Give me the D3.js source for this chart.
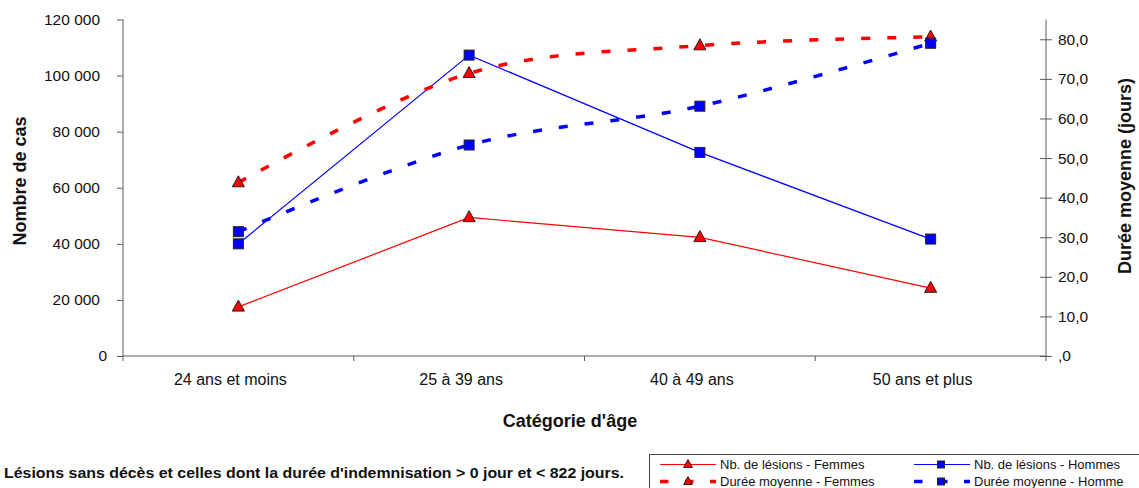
<!DOCTYPE html>
<html>
<head>
<meta charset="utf-8">
<script src="https://cdn.jsdelivr.net/npm/d3@7/dist/d3.min.js"></script>
<style>
  html, body { margin: 0; padding: 0; background: #fff; }
  svg { display: block; font-family: Arial, "Liberation Sans", sans-serif; }
</style>
</head>
<body>
<svg id="chart" width="1139" height="488"></svg>
<script>
const categories = ["24 ans et moins", "25 à 39 ans", "40 à 49 ans", "50 ans et plus"];
const lesionsFemmes = [17500, 49400, 42300, 24200];
const lesionsHommes = [40000, 107300, 72600, 41700];
const dureeFemmes = [43.8, 71.4, 78.4, 80.6];
const dureeHommes = [31.4, 53.3, 63.1, 79.0];
const leftTicks = [0, 20000, 40000, 60000, 80000, 100000, 120000];
const leftTickLabels = ["0", "20 000", "40 000", "60 000", "80 000", "100 000", "120 000"];
const rightTicks = [0, 10, 20, 30, 40, 50, 60, 70, 80];
const rightTickLabels = [",0", "10,0", "20,0", "30,0", "40,0", "50,0", "60,0", "70,0", "80,0"];
const legendLabels = ["Nb. de lésions - Femmes", "Nb. de lésions - Hommes", "Durée moyenne - Femmes", "Durée moyenne - Homme"];
const footnote = "Lésions sans décès et celles dont la durée d'indemnisation > 0 jour et < 822 jours.";

const svg = d3.select("#chart");
const L = 123, R = 1046, T = 19.5, B = 356;
const axisColor = "#5a5a5a";
const RED = "#ff0000", BLUE = "#0000ff";
const FONT = "Arial, 'Liberation Sans', sans-serif";

const x = d3.scaleBand().domain(categories).range([L, R]).padding(0);
const cx = c => x(c) + x.bandwidth() / 2;
const yL = d3.scaleLinear().domain([0, 120000]).range([B, T]);
const yR = d3.scaleLinear().domain([0, 85]).range([B, T]);

// Left axis
const gL = svg.append("g").attr("transform", `translate(${L},0)`)
  .call(d3.axisLeft(yL).tickValues(leftTicks).tickSize(6).tickPadding(17)
    .tickFormat((d, i) => leftTickLabels[i]));
gL.select(".domain").attr("stroke", axisColor).attr("d", `M0,${T}V${B + 5}`);
gL.selectAll(".tick line").attr("stroke", axisColor);
gL.selectAll(".tick text").attr("font-size", "15.5px").attr("fill", "#111").attr("font-family", FONT)
  .attr("dx", d => d === 0 ? 7 : 0);

// Right axis
const gR = svg.append("g").attr("transform", `translate(${R},0)`)
  .call(d3.axisRight(yR).tickValues(rightTicks).tickSize(6).tickPadding(6)
    .tickFormat((d, i) => rightTickLabels[i]));
gR.select(".domain").attr("stroke", axisColor).attr("d", `M0,${T}V${B}`);
gR.selectAll(".tick line").attr("stroke", axisColor).attr("x1", -6);
gR.selectAll(".tick text").attr("font-size", "15.5px").attr("fill", "#111").attr("font-family", FONT);

// Category axis
const gX = svg.append("g").attr("transform", `translate(0,${B})`);
gX.append("line").attr("x1", L).attr("x2", R).attr("y1", 0).attr("y2", 0).attr("stroke", axisColor);
const bounds = categories.map(c => x(c)).concat([x(categories[categories.length - 1]) + x.bandwidth()]);
gX.selectAll("line.tk").data(bounds.slice(1)).join("line").attr("class", "tk")
  .attr("x1", d => d).attr("x2", d => d).attr("y1", 0).attr("y2", 5).attr("stroke", axisColor);
gX.selectAll("text").data(categories).join("text")
  .attr("x", d => cx(d)).attr("dx", -8).attr("y", 29).attr("text-anchor", "middle")
  .attr("font-size", "16px").attr("fill", "#111").text(d => d);

// Axis titles
svg.append("text").attr("x", 570).attr("y", 427).attr("text-anchor", "middle")
  .attr("font-size", "18px").attr("font-weight", "bold").attr("fill", "#111").text("Catégorie d'âge");
svg.append("text").attr("transform", "translate(26,181) rotate(-90)").attr("text-anchor", "middle")
  .attr("font-size", "18px").attr("font-weight", "bold").attr("fill", "#111").text("Nombre de cas");
svg.append("text").attr("transform", "translate(1131,176) rotate(-90)").attr("text-anchor", "middle")
  .attr("font-size", "18px").attr("font-weight", "bold").attr("fill", "#111").text("Durée moyenne (jours)");

// Markers
const triPath = s => `M0,${-s * 0.62}L${s * 0.55},${s * 0.38}L${-s * 0.55},${s * 0.38}Z`;
function drawTri(g, px, py, s) {
  g.append("path").attr("d", triPath(s)).attr("transform", `translate(${px},${py})`)
    .attr("fill", RED).attr("stroke", "#222").attr("stroke-width", 1);
}
function drawSq(g, px, py, s) {
  g.append("rect").attr("x", px - s / 2).attr("y", py - s / 2).attr("width", s).attr("height", s)
    .attr("fill", BLUE).attr("stroke", "#222").attr("stroke-width", 1);
}

const series = [
  { vals: lesionsFemmes, y: yL, color: RED, dashed: false, marker: "tri" },
  { vals: lesionsHommes, y: yL, color: BLUE, dashed: false, marker: "sq" },
  { vals: dureeFemmes, y: yR, color: RED, dashed: true, marker: "tri" },
  { vals: dureeHommes, y: yR, color: BLUE, dashed: true, marker: "sq" }
];

series.forEach(s => {
  const pts = categories.map((c, i) => [cx(c), s.y(s.vals[i])]);
  const line = d3.line().curve(s.dashed ? d3.curveCatmullRom.alpha(0) : d3.curveLinear);
  const g = svg.append("g");
  g.append("path").attr("d", line(pts)).attr("fill", "none").attr("stroke", s.color)
    .attr("stroke-width", s.dashed ? 3.5 : 1.2)
    .attr("stroke-dasharray", s.dashed ? "9,17" : null);
  pts.forEach(p => s.marker === "tri" ? drawTri(g, p[0], p[1], 11) : drawSq(g, p[0], p[1], 10));
});

// Footnote
svg.append("text").attr("x", 4).attr("y", 478).attr("font-size", "15.5px").attr("font-weight", "bold")
  .attr("textLength", 620).attr("lengthAdjust", "spacingAndGlyphs")
  .attr("fill", "#111").text(footnote);

// Legend
const lg = svg.append("g");
lg.append("rect").attr("x", 649.5).attr("y", 454.5).attr("width", 500).attr("height", 50)
  .attr("fill", "#fff").attr("stroke", "#444").attr("stroke-width", 1);
const legendItems = [
  { col: 0, row: 0, s: series[0] },
  { col: 1, row: 0, s: series[1] },
  { col: 0, row: 1, s: series[2] },
  { col: 1, row: 1, s: series[3] }
];
const colX = [660, 914], rowY = [464.5, 481.5];
legendItems.forEach((it, i) => {
  const x0 = colX[it.col], yy = rowY[it.row];
  lg.append("line").attr("x1", x0).attr("x2", x0 + 56).attr("y1", yy).attr("y2", yy)
    .attr("stroke", it.s.color).attr("stroke-width", it.s.dashed ? 3.5 : 1.2)
    .attr("stroke-dasharray", it.s.dashed ? "8.5,16.5" : null);
  if (it.s.marker === "tri") drawTri(lg, x0 + 28, yy, 8); else drawSq(lg, x0 + 27, yy, 7);
  lg.append("text").attr("x", x0 + 60).attr("y", yy + 4.5).attr("font-size", "13px")
    .attr("fill", "#111").text(legendLabels[i]);
});
</script>
</body>
</html>
